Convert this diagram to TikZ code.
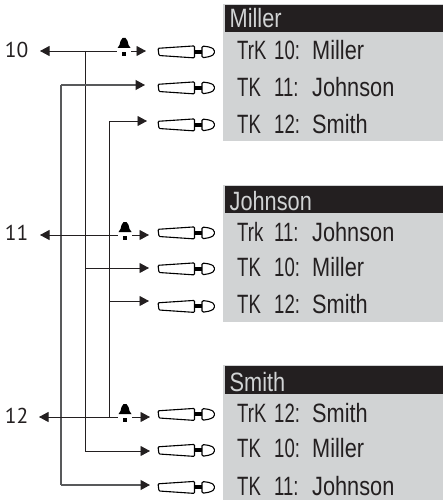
\documentclass[tikz,border=0pt]{standalone}
\usepackage{fontspec}
\usetikzlibrary{calc}
\usetikzlibrary{arrows.meta}
\setmainfont{PT Sans}
\newfontfamily\lcdname[FakeStretch=0.82]{Liberation Sans}
\newfontfamily\lcdtrk[FakeStretch=0.7]{Liberation Sans}
\definecolor{lcdgray}{HTML}{D1D3D4}
\definecolor{lcdblack}{HTML}{231F20}
\definecolor{wiregray}{HTML}{58595B}

\tikzset{
  wire/.style={lcdblack,line width=0.9pt},
  wirefar/.style={wiregray,line width=1.2pt},
  tip/.style={-{Triangle[length=9.5pt,width=10pt,color=lcdblack]}},
  txt/.style={anchor=base west,inner sep=0pt},
  namefont/.style={txt,text=lcdblack,font=\lcdname\fontsize{26.5}{28}\selectfont},
  trkfont/.style={txt,text=lcdblack,font=\lcdtrk\fontsize{26.5}{28}\selectfont},
  headfont/.style={txt,text=lcdgray,font=\lcdname\fontsize{26.5}{28}\selectfont},
  extfont/.style={inner sep=0pt,text=lcdblack,font=\fontsize{21.5}{23}\selectfont},
  bellbox/.style={inner sep=0pt,minimum width=14pt,minimum height=1pt}
}

\begin{document}
\begin{tikzpicture}[x=1pt,y=-1pt]
\useasboundingbox (0,0) rectangle (443,500);

% junctions on the three risers
\coordinate (r1) at (61,85);
\coordinate (r2) at (85,51);
\coordinate (r3) at (109,121);
\coordinate (s3) at (85,268);
\coordinate (s5) at (109,301);
\coordinate (u1) at (61,485);
\coordinate (u2) at (85,451);
\coordinate (u3) at (109,417);

% arrow ends
\coordinate (a1) at (146,51);
\coordinate (a2) at (145,85);
\coordinate (a3) at (147,121);
\coordinate (b1) at (149,235);
\coordinate (b2) at (149,268);
\coordinate (b3) at (149,301);
\coordinate (c1) at (150,417);
\coordinate (c2) at (150,451);
\coordinate (c3) at (150,485);
\coordinate (w1) at (40,51);
\coordinate (w2) at (40,235);
\coordinate (w3) at (39,417);

\newcommand{\bellicon}[3]{
    \node[bellbox] (#1) at (#2,#3) {};
    \fill[black] (#2-6.5,#3-3) -- (#2-4.5,#3-6) -- (#2-3.5,#3-10) -- (#2-1.5,#3-13)
        -- (#2+1.5,#3-13) -- (#2+3.5,#3-10) -- (#2+4.5,#3-6) -- (#2+6.5,#3-3) -- cycle;
    \fill[black] (#2-2.2,#3+1) rectangle (#2+2.2,#3+5);
}

\newcommand{\handset}[1]{
    \draw[black,line width=1.1pt,rounded corners=1pt] (158,#1-3.2)--(194.5,#1-5.6)--(194.5,#1+6.4)--(159,#1+4)--cycle;
    \fill[black] (194.5,#1-1.8) rectangle (202,#1+2.4);
    \draw[black,line width=1.1pt,rounded corners=1.5pt] (202,#1-5.6)--(210,#1-4.4)--(214.3,#1-2.2)--(214.3,#1+2.8)--(210,#1+5)--(202,#1+6.4)--cycle;
}

\newcommand{\trkrow}[6]{
    \node[trkfont] (#1t) at (237,#3) {\makebox[37pt][l]{#4}#5:};
    \node[namefont] (#1n) at (312,#3) {#6};
}

\newcommand{\drawpanel}[6]{
    \fill[lcdgray] (223,#2) rectangle (443,#3);
    \fill[lcdblack] (225,#2+1) rectangle (443,#4);
    \node[headfont] (#1) at (229.5,#5) {#6};
}

% panels
\drawpanel{hd1}{4}{140.5}{32}{28}{Miller}
\trkrow{p1}{1}{60}{TrK}{10}{Miller}
\trkrow{p2}{2}{97}{TK}{11}{Johnson}
\trkrow{p3}{3}{133}{TK}{12}{Smith}

\drawpanel{hd2}{185}{322}{213}{210}{Johnson}
\trkrow{q1}{1}{241}{Trk}{11}{Johnson}
\trkrow{q2}{2}{276}{TK}{10}{Miller}
\trkrow{q3}{3}{313}{TK}{12}{Smith}

\drawpanel{hd3}{365}{500}{394}{391}{Smith}
\trkrow{v1}{1}{422}{TrK}{12}{Smith}
\trkrow{v2}{2}{457}{TK}{10}{Miller}
\trkrow{v3}{3}{495}{TK}{11}{Johnson}

% extensions
\node[extfont,anchor=east] (n10) at (28.5,50) {10};
\node[extfont,anchor=east] (n11) at (28.5,233) {11};
\node[extfont,anchor=east] (n12) at (28.5,415.5) {12};

\bellicon{bA}{124}{51}
\bellicon{bB}{125}{235}
\bellicon{bC}{125}{417}

% risers
\draw[wirefar] (r1)--(u1);
\draw[wire] (r2)--(u2);
\draw[wire] (r3)--(u3);

% lines to the left and to the handsets
\draw[wire,tip] (bA.west)--(w1);
\draw[wire,tip] (bB.west)--(w2);
\draw[wire,tip] (bC.west)--(w3);
\draw[wire,tip] (bA.east)--(a1);
\draw[wire,tip] (bB.east)--(b1);
\draw[wire,tip] (bC.east)--(c1);
\draw[wirefar,tip] (r1)--(a2);
\draw[wire,tip] (r3)--(a3);
\draw[wire,tip] (s3)--(b2);
\draw[wire,tip] (s5)--(b3);
\draw[wire,tip] (u2)--(c2);
\draw[wirefar,tip] (u1)--(c3);

\handset{51.5}
\handset{87.5}
\handset{124.5}
\handset{232.5}
\handset{268.5}
\handset{306}
\handset{414}
\handset{450}
\handset{487}
\end{tikzpicture}
\end{document}
